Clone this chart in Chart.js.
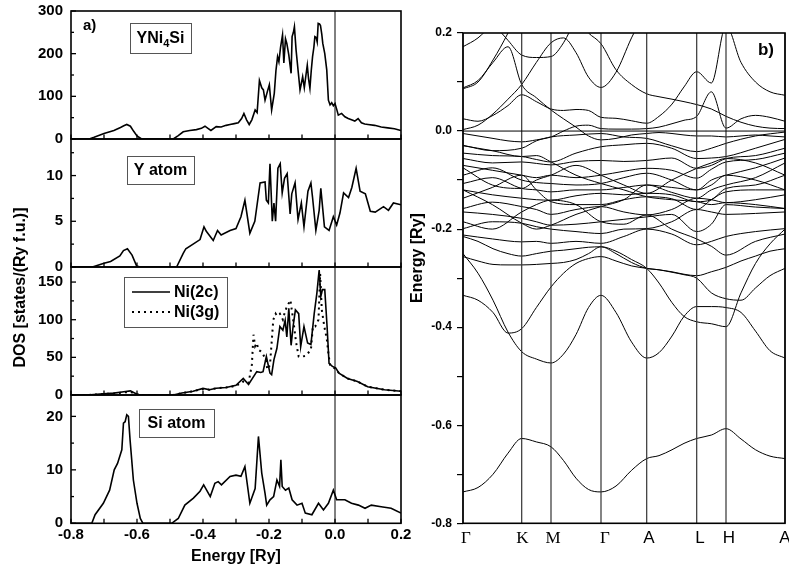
<!DOCTYPE html>
<html><head><meta charset="utf-8">
<script src="https://cdn.jsdelivr.net/npm/chart.js@4.4.1/dist/chart.umd.min.js"></script>
<style>
html,body{margin:0;padding:0;background:#fff;width:789px;height:571px;overflow:hidden;}
canvas{position:absolute;left:0;top:0;}
</style></head><body>
<canvas id="c1" width="420" height="571"></canvas>
<canvas id="c2" width="420" height="571"></canvas>
<canvas id="c3" width="420" height="571"></canvas>
<canvas id="c4" width="420" height="571"></canvas>
<canvas id="cb" width="789" height="571"></canvas>
<script>
const SANS = '"Liberation Sans", Arial, Helvetica, sans-serif';
const SERIF = '"Liberation Serif", "Times New Roman", serif';

// ---------- DOS data: [energy (Ry), DOS] ----------
const dosTotal = [[-0.80,0],[-0.745,0],[-0.73,4],[-0.70,13],[-0.67,20],[-0.65,27],[-0.64,31],[-0.631,34],[-0.62,30],[-0.61,18],[-0.60,7],[-0.586,0],[-0.49,0],[-0.475,8],[-0.46,17],[-0.44,20],[-0.42,22],[-0.405,25],[-0.394,30],[-0.385,25],[-0.376,20],[-0.36,29],[-0.345,28],[-0.33,32],[-0.318,34],[-0.305,36],[-0.293,38],[-0.283,48],[-0.276,60],[-0.268,45],[-0.26,34],[-0.252,45],[-0.242,68],[-0.236,62],[-0.229,137],[-0.222,120],[-0.217,115],[-0.212,91],[-0.205,111],[-0.199,127],[-0.192,68],[-0.184,107],[-0.179,160],[-0.174,193],[-0.170,181],[-0.165,215],[-0.159,244],[-0.155,178],[-0.150,235],[-0.146,224],[-0.140,197],[-0.133,154],[-0.130,240],[-0.126,250],[-0.123,263],[-0.118,209],[-0.111,154],[-0.106,115],[-0.102,130],[-0.098,146],[-0.093,120],[-0.088,150],[-0.084,173],[-0.080,140],[-0.076,119],[-0.072,160],[-0.068,193],[-0.064,215],[-0.061,240],[-0.057,238],[-0.054,228],[-0.051,271],[-0.047,270],[-0.044,266],[-0.040,245],[-0.037,224],[-0.031,200],[-0.025,162],[-0.020,91],[-0.015,80],[-0.010,85],[-0.005,78],[0.0,83],[0.005,70],[0.010,56],[0.020,60],[0.030,52],[0.040,48],[0.050,45],[0.060,42],[0.070,48],[0.080,38],[0.090,35],[0.100,34],[0.120,32],[0.140,28],[0.160,26],[0.180,24],[0.200,20]];

const dosYatom = [[-0.80,0],[-0.735,0],[-0.70,0.4],[-0.68,0.6],[-0.652,1.2],[-0.641,1.8],[-0.629,2.0],[-0.615,1.3],[-0.601,0.1],[-0.59,0],[-0.48,0],[-0.46,1.5],[-0.452,2.0],[-0.43,2.5],[-0.409,3.0],[-0.397,4.4],[-0.39,3.9],[-0.369,2.9],[-0.356,4.0],[-0.345,3.5],[-0.318,4.0],[-0.30,4.2],[-0.285,5.5],[-0.273,7.3],[-0.258,3.7],[-0.243,5.0],[-0.227,9.2],[-0.212,9.3],[-0.208,7.3],[-0.202,7.0],[-0.197,11.3],[-0.19,5.0],[-0.185,7.0],[-0.18,5.0],[-0.173,10.8],[-0.166,11.3],[-0.16,8.1],[-0.153,9.7],[-0.145,10.2],[-0.136,5.8],[-0.131,8.0],[-0.121,9.2],[-0.112,5.2],[-0.102,7.0],[-0.094,4.4],[-0.082,8.3],[-0.073,9.2],[-0.068,7.6],[-0.058,4.0],[-0.048,6.2],[-0.043,8.6],[-0.032,4.4],[-0.018,4.0],[-0.005,5.5],[0.005,4.6],[0.015,5.9],[0.026,8.1],[0.041,7.6],[0.051,8.7],[0.064,10.8],[0.076,8.3],[0.092,8.0],[0.107,6.1],[0.122,6.0],[0.147,6.6],[0.162,6.2],[0.177,7.0],[0.2,6.8]];

const dosNi2c = [[-0.80,0],[-0.75,0],[-0.712,1.3],[-0.67,2.5],[-0.64,4.4],[-0.62,5.5],[-0.60,1],[-0.59,0],[-0.49,0],[-0.464,2.6],[-0.43,5],[-0.40,8.8],[-0.38,7],[-0.36,9],[-0.33,10],[-0.30,13],[-0.278,22],[-0.262,14],[-0.237,31],[-0.225,30],[-0.218,31],[-0.208,51],[-0.197,29],[-0.192,27],[-0.185,47],[-0.176,62],[-0.167,91],[-0.158,86],[-0.151,99],[-0.146,77],[-0.14,115],[-0.133,66],[-0.127,91],[-0.12,113],[-0.11,108],[-0.104,64],[-0.094,91],[-0.083,69],[-0.073,67],[-0.063,108],[-0.055,135],[-0.048,166],[-0.043,131],[-0.038,140],[-0.031,140],[-0.024,91],[-0.018,42],[-0.008,38],[0.002,36],[0.012,29],[0.038,22],[0.068,18],[0.099,11],[0.15,7],[0.2,5]];

const dosNi3g = [[-0.80,0],[-0.75,0],[-0.712,1],[-0.67,2],[-0.64,3.5],[-0.62,4],[-0.60,1],[-0.59,0],[-0.49,0],[-0.464,2.5],[-0.43,5],[-0.40,8],[-0.38,7],[-0.36,9],[-0.33,10],[-0.30,12],[-0.278,18],[-0.262,16],[-0.252,40],[-0.247,80],[-0.242,65],[-0.237,69],[-0.232,60],[-0.225,58],[-0.22,56],[-0.21,47],[-0.205,34],[-0.197,40],[-0.187,100],[-0.18,108],[-0.176,105],[-0.167,108],[-0.158,100],[-0.152,110],[-0.146,117],[-0.14,122],[-0.135,126],[-0.13,110],[-0.124,91],[-0.118,70],[-0.11,51],[-0.1,51],[-0.09,52],[-0.083,55],[-0.073,60],[-0.067,91],[-0.06,91],[-0.05,100],[-0.045,161],[-0.04,113],[-0.032,90],[-0.025,75],[-0.02,55],[-0.015,40],[-0.008,37],[0.002,35],[0.012,29],[0.038,22],[0.068,18],[0.099,11],[0.15,7],[0.2,5]];

const dosSi = [[-0.80,0],[-0.737,0],[-0.727,1.6],[-0.702,3.75],[-0.683,6.2],[-0.669,10],[-0.659,11.2],[-0.646,13.75],[-0.641,18.75],[-0.636,19],[-0.631,20.3],[-0.626,20],[-0.621,15.6],[-0.611,8.1],[-0.60,3.75],[-0.59,0.9],[-0.582,0],[-0.495,0],[-0.475,0.9],[-0.455,3.4],[-0.429,4.7],[-0.409,6],[-0.398,7.2],[-0.378,5],[-0.364,7.5],[-0.354,7.8],[-0.344,7.2],[-0.318,8.75],[-0.30,9],[-0.285,8.8],[-0.273,10.6],[-0.258,3.75],[-0.242,6.5],[-0.232,16.25],[-0.222,9.4],[-0.212,5.6],[-0.207,3.4],[-0.197,4.4],[-0.186,5],[-0.176,8.1],[-0.168,6.9],[-0.164,11.9],[-0.16,6.9],[-0.15,6.2],[-0.14,6.6],[-0.13,4.4],[-0.115,3.4],[-0.1,3.75],[-0.09,1.9],[-0.07,1.6],[-0.05,3.75],[-0.035,2.5],[-0.02,3.75],[-0.005,6.2],[0.005,4.4],[0.03,4.4],[0.05,3.75],[0.071,3.4],[0.091,2.8],[0.11,3.4],[0.14,3.1],[0.17,2.8],[0.2,1.9]];

const niLabels = ['Ni(2c)', 'Ni(3g)'];

// ---------- Band structure data ----------
const kPoints = [0, 58.7, 88, 138, 183.7, 233.7, 263, 322];
const kLabels = ['Γ','K','M','Γ','A','L','H','A'];
const kLabelPos = [3, 59.5, 90, 142, 186, 237, 266, 322];

const kFine = [0,15,30,45,58.7,73.35,88,100.5,113,125.5,138,153,168.5,183.7,196,209,221,233.7,248.35,263,278,292.5,307,322];
const kCoarse = [0,29.35,58.7,73.35,88,113,138,160.85,183.7,208.7,233.7,248.35,263,292.5,322];

const bandsFine = [
 [-0.736,-0.727,-0.700,-0.657,-0.627,-0.634,-0.644,-0.672,-0.708,-0.731,-0.736,-0.724,-0.692,-0.668,-0.662,-0.650,-0.637,-0.627,-0.620,-0.607,-0.628,-0.650,-0.663,-0.668],
 [-0.25,-0.29,-0.345,-0.41,-0.45,-0.465,-0.473,-0.455,-0.415,-0.36,-0.335,-0.37,-0.43,-0.463,-0.452,-0.418,-0.378,-0.358,-0.358,-0.36,-0.37,-0.408,-0.448,-0.463],
 [-0.335,-0.345,-0.37,-0.412,-0.403,-0.36,-0.318,-0.29,-0.27,-0.26,-0.256,-0.265,-0.275,-0.28,-0.283,-0.287,-0.292,-0.295,-0.287,-0.278,-0.265,-0.255,-0.245,-0.24],
 [-0.215,-0.225,-0.24,-0.25,-0.255,-0.25,-0.245,-0.243,-0.24,-0.237,-0.236,-0.245,-0.262,-0.28,-0.31,-0.35,-0.378,-0.389,-0.393,-0.399,-0.33,-0.27,-0.23,-0.20],
 [-0.256,-0.265,-0.272,-0.273,-0.273,-0.272,-0.27,-0.268,-0.262,-0.25,-0.236,-0.25,-0.268,-0.28,-0.283,-0.288,-0.293,-0.30,-0.33,-0.342,-0.345,-0.32,-0.295,-0.28],
 [0.086,0.10,0.145,0.20,0.26,null,null,null,null,null,null,null,null,null,null,null,null,null,null,null,null,null,null,null],
 [0.088,0.103,0.14,0.172,0.095,0.068,0.043,0.025,0.008,-0.01,-0.018,-0.015,-0.008,-0.005,-0.003,-0.005,-0.008,-0.01,-0.01,-0.012,-0.01,-0.008,-0.01,-0.012],
 [0.003,0.012,0.035,0.065,0.095,0.14,0.18,0.19,0.16,0.11,0.089,0.12,0.19,0.25,null,null,null,null,null,null,null,null,null,null],
 [0.025,0.02,0.032,0.052,0.074,0.06,0.045,0.042,0.044,0.042,0.028,0.026,0.021,0.016,0.03,0.055,0.09,0.121,0.098,0.215,0.14,0.1,0.08,0.073],
 [0.172,0.19,0.22,null,null,null,null,null,0.23,0.2,0.178,0.125,0.095,0.076,0.07,0.065,0.06,0.054,0.045,0.03,0.018,0.01,0.006,0.005],
 [-0.005,-0.01,-0.015,-0.02,-0.022,-0.018,-0.012,0.0,0.01,0.012,0.005,0.004,0.004,0.005,0.008,0.015,0.022,0.03,0.08,0.006,0.025,0.032,0.028,0.02],
 [null,null,0.22,0.185,0.155,0.15,0.152,0.18,0.23,null,null,null,null,null,null,null,null,null,null,null,null,null,null,null]
];

const bandsCoarse = [
 [-0.029,-0.04,-0.035,-0.02,-0.012,-0.008,-0.005,-0.012,-0.015,-0.03,-0.042,-0.035,-0.025,-0.01,-0.002],
 [-0.045,-0.05,-0.052,-0.058,-0.063,-0.045,-0.032,-0.028,-0.025,-0.035,-0.056,-0.055,-0.052,-0.035,-0.017],
 [-0.056,-0.065,-0.063,-0.066,-0.069,-0.062,-0.06,-0.062,-0.06,-0.055,-0.076,-0.07,-0.056,-0.05,-0.035],
 [-0.07,-0.08,-0.09,-0.095,-0.09,-0.095,-0.09,-0.082,-0.076,-0.08,-0.096,-0.078,-0.063,-0.058,-0.045],
 [-0.09,-0.075,-0.1,-0.105,-0.107,-0.11,-0.107,-0.095,-0.086,-0.1,-0.12,-0.1,-0.09,-0.075,-0.055],
 [-0.107,-0.095,-0.117,-0.12,-0.124,-0.12,-0.12,-0.115,-0.11,-0.125,-0.137,-0.12,-0.11,-0.095,-0.065],
 [-0.12,-0.13,-0.137,-0.14,-0.141,-0.132,-0.127,-0.13,-0.127,-0.13,-0.144,-0.14,-0.117,-0.11,-0.09],
 [-0.137,-0.115,-0.09,-0.12,-0.144,-0.15,-0.15,-0.14,-0.134,-0.138,-0.16,-0.14,-0.124,-0.12,-0.12],
 [-0.158,-0.145,-0.154,-0.16,-0.17,-0.16,-0.154,-0.165,-0.171,-0.16,-0.137,-0.14,-0.146,-0.14,-0.13],
 [-0.165,-0.17,-0.178,-0.185,-0.192,-0.19,-0.185,-0.18,-0.175,-0.17,-0.205,-0.19,-0.15,-0.155,-0.158],
 [-0.199,-0.185,-0.188,-0.195,-0.2,-0.205,-0.209,-0.2,-0.199,-0.185,-0.16,-0.165,-0.17,-0.168,-0.165],
 [-0.212,-0.22,-0.226,-0.225,-0.229,-0.225,-0.229,-0.215,-0.2,-0.21,-0.232,-0.225,-0.215,-0.205,-0.199],
 [-0.185,-0.2,-0.165,-0.15,-0.141,-0.15,-0.185,-0.19,-0.171,-0.2,-0.22,-0.235,-0.253,-0.225,-0.21],
 [-0.12,-0.15,-0.188,-0.2,-0.192,-0.17,-0.154,-0.14,-0.11,-0.115,-0.12,-0.11,-0.09,-0.1,-0.12],
 [-0.075,-0.11,-0.117,-0.1,-0.09,-0.07,-0.09,-0.11,-0.127,-0.1,-0.076,-0.065,-0.056,-0.065,-0.09],
 [-0.03,-0.04,-0.052,-0.05,-0.063,-0.09,-0.107,-0.12,-0.134,-0.14,-0.144,-0.15,-0.146,-0.15,-0.158]
];

// ---------- helpers ----------
function pts(pairs){ return pairs.map(p => ({x:p[0], y:p[1]})); }
function fmt1(v){ return Math.abs(v) < 1e-9 ? '0.0' : v.toFixed(1); }
function seg(ctx,x1,y1,x2,y2){ ctx.beginPath(); ctx.moveTo(x1,y1); ctx.lineTo(x2,y2); ctx.stroke(); }
function boxText(ctx, x0, y0, x1, y1, parts, size){
  ctx.save();
  ctx.strokeStyle = '#555'; ctx.lineWidth = 1;
  ctx.strokeRect(x0 + 0.5, y0 + 0.5, x1 - x0, y1 - y0);
  let w = 0;
  parts.forEach(p => { ctx.font = 'bold ' + (p.sub ? Math.round(size*0.7) : size) + 'px ' + SANS; p.w = ctx.measureText(p.t).width; w += p.w; });
  let x = (x0 + x1)/2 - w/2; const yc = (y0 + y1)/2 + 1;
  ctx.fillStyle = '#000'; ctx.textBaseline = 'middle'; ctx.textAlign = 'left';
  parts.forEach(p => { ctx.font = 'bold ' + (p.sub ? Math.round(size*0.7) : size) + 'px ' + SANS; ctx.fillText(p.t, x, p.sub ? yc + 5 : yc); x += p.w; });
  ctx.restore();
}
function dosLine(pairs, label, extra){ return Object.assign({label: label, data: pts(pairs), borderColor:'#000', borderWidth:1.6, pointRadius:0, tension:0, fill:false}, extra || {}); }

function dosPanel(id, datasets, yMax, yStep, yMinor, top, bottom, showX, drawExtra){
  const AX_H = 40;
  return new Chart(document.getElementById(id), {
    type: 'line',
    data: { datasets },
    options: {
      responsive: false, animation: false, events: [],
      layout: { padding: { left: 0, right: 19, top: top, bottom: showX ? 571 - bottom - AX_H : 571 - bottom } },
      plugins: { legend: { display: false }, tooltip: { enabled: false } },
      scales: {
        x: { type: 'linear', min: -0.8, max: 0.2, display: showX,
             grid: { display: false, drawTicks: false }, border: { display: false },
             ticks: { stepSize: 0.2, autoSkip: false, maxRotation: 0, padding: 3, color: '#000',
                      font: { family: SANS, size: 15, weight: 'bold' }, callback: v => fmt1(v) },
             afterFit: s => { if (showX) s.height = AX_H; s.paddingLeft = 0; s.paddingRight = 0; } },
        y: { type: 'linear', min: 0, max: yMax,
             grid: { display: false, drawTicks: false }, border: { display: false },
             ticks: { stepSize: yStep, includeBounds: false, padding: 8, color: '#000',
                      font: { family: SANS, size: 15, weight: 'bold' } },
             afterFit: s => { s.width = 71; s.paddingTop = 0; s.paddingBottom = 0; } }
      }
    },
    plugins: [{
      id: 'frame_' + id,
      afterDraw(chart){
        const { ctx, chartArea: a, scales: { x, y } } = chart;
        ctx.save();
        ctx.strokeStyle = '#000';
        ctx.lineWidth = 1;
        const x0 = x.getPixelForValue(0);
        seg(ctx, x0, a.top, x0, a.bottom);
        ctx.lineWidth = 1.3;
        for (let i = 0; i <= 10; i++){
          const px = x.getPixelForValue(-0.8 + i*0.1);
          seg(ctx, px, a.bottom, px, a.bottom - 4.5);
        }
        for (let i = 0; i*yMinor <= yMax + 1e-9; i++){
          const v = i*yMinor;
          const py = y.getPixelForValue(v);
          const major = Math.abs(v/yStep - Math.round(v/yStep)) < 1e-6;
          seg(ctx, a.left, py, a.left + (major ? 5 : 3), py);
        }
        ctx.lineWidth = 1.6;
        ctx.strokeRect(a.left, a.top, a.right - a.left, a.bottom - a.top);
        if (drawExtra) drawExtra(ctx, chart);
        ctx.restore();
      }
    }]
  });
}

// ---------- left panels ----------
dosPanel('c1', [dosLine(dosTotal, 'YNi4Si')], 300, 100, 50, 11, 139, false, (ctx) => {
  ctx.fillStyle = '#000'; ctx.textBaseline = 'middle'; ctx.textAlign = 'left';
  ctx.font = 'bold 15px ' + SANS; ctx.fillText('a)', 83, 26);
  boxText(ctx, 130, 23, 191, 53, [{t:'YNi'},{t:'4',sub:true},{t:'Si'}], 16);
});
dosPanel('c2', [dosLine(dosYatom, 'Y atom')], 14, 5, 2.5, 139, 267, false, (ctx) => {
  boxText(ctx, 127, 156, 194, 184, [{t:'Y atom'}], 16);
  ctx.save();
  ctx.fillStyle = '#000'; ctx.font = 'bold 16px ' + SANS; ctx.textAlign = 'center'; ctx.textBaseline = 'middle';
  ctx.translate(21, 287.5); ctx.rotate(-Math.PI/2);
  ctx.fillText('DOS [states/(Ry f.u.)]', 0, 0);
  ctx.restore();
});
dosPanel('c3', [dosLine(dosNi2c, niLabels[0]), dosLine(dosNi3g, niLabels[1], {borderDash:[2,4], borderWidth:2})], 170, 50, 25, 267, 395, false, (ctx, chart) => {
  boxText(ctx, 124, 277, 227, 327, [], 16);
  ctx.strokeStyle = '#000';
  ctx.lineWidth = 1.6; ctx.setLineDash([]); seg(ctx, 132, 292, 170, 292);
  ctx.lineWidth = 2; ctx.setLineDash([2,4]); seg(ctx, 132, 312, 170, 312); ctx.setLineDash([]);
  ctx.fillStyle = '#000'; ctx.font = 'bold 16px ' + SANS; ctx.textAlign = 'left'; ctx.textBaseline = 'middle';
  ctx.fillText(chart.data.datasets[0].label, 174, 293);
  ctx.fillText(chart.data.datasets[1].label, 174, 313);
});
dosPanel('c4', [dosLine(dosSi, 'Si atom')], 24, 10, 5, 395, 523.3, true, (ctx) => {
  boxText(ctx, 139, 409, 214, 437, [{t:'Si atom'}], 16);
  ctx.fillStyle = '#000'; ctx.font = 'bold 16px ' + SANS; ctx.textAlign = 'center'; ctx.textBaseline = 'middle';
  ctx.fillText('Energy [Ry]', 236, 557);
});

// ---------- right panel: band structure ----------
function bandSet(grid, vals){
  return { data: grid.map((k,i) => ({x:k, y:vals[i]})), borderColor:'#000', borderWidth:1,
           pointRadius:0, cubicInterpolationMode:'monotone', fill:false };
}
const bandDatasets = bandsFine.map(b => bandSet(kFine, b)).concat(bandsCoarse.map(b => bandSet(kCoarse, b)));

new Chart(document.getElementById('cb'), {
  type: 'line',
  data: { datasets: bandDatasets },
  options: {
    responsive: false, animation: false, events: [],
    layout: { padding: { left: 400, right: 4, top: 33, bottom: 571 - 523.3 - 30 } },
    plugins: { legend: { display: false }, tooltip: { enabled: false } },
    scales: {
      x: { type: 'linear', min: 0, max: 322,
           grid: { display: false, drawTicks: false }, border: { display: false },
           afterBuildTicks: s => { s.ticks = kLabelPos.map(v => ({ value: v })); },
           ticks: { autoSkip: false, maxRotation: 0, padding: 5, color: '#000',
                    font: c => (c.index < 4 ? { family: SERIF, size: 17 } : { family: SANS, size: 17 }),
                    callback: (v, i) => kLabels[i] },
           afterFit: s => { s.height = 30; s.paddingLeft = 0; s.paddingRight = 0; } },
      y: { type: 'linear', min: -0.8, max: 0.2,
           grid: { display: true, drawOnChartArea: false, drawTicks: true, tickLength: 6, color: '#000', lineWidth: 1.2 },
           border: { display: false },
           ticks: { stepSize: 0.1, autoSkip: false, padding: 5, color: '#000',
                    font: { family: SANS, size: 12, weight: 'bold' },
                    callback: v => (Math.round(v*10) % 2 === 0 ? fmt1(v) : '') },
           afterFit: s => { s.width = 63; s.paddingTop = 0; s.paddingBottom = 0; } }
    }
  },
  plugins: [{
    id: 'bandFrame',
    afterDraw(chart){
      const { ctx, chartArea: a, scales: { x, y } } = chart;
      ctx.save();
      ctx.strokeStyle = '#333'; ctx.lineWidth = 1.2;
      kPoints.forEach(k => { const px = x.getPixelForValue(k); seg(ctx, px, a.top, px, a.bottom); });
      ctx.strokeStyle = '#000'; ctx.lineWidth = 1;
      const y0 = y.getPixelForValue(0); seg(ctx, a.left, y0, a.right, y0);
      ctx.lineWidth = 1.6; ctx.strokeRect(a.left, a.top, a.right - a.left, a.bottom - a.top);
      ctx.fillStyle = '#000'; ctx.textAlign = 'center'; ctx.textBaseline = 'middle';
      ctx.font = 'bold 17px ' + SANS; ctx.fillText('b)', 766, 50);
      ctx.font = 'bold 16px ' + SANS;
      ctx.translate(417.5, 258); ctx.rotate(-Math.PI/2);
      ctx.fillText('Energy [Ry]', 0, 0);
      ctx.restore();
    }
  }]
});
</script>
</body></html>
